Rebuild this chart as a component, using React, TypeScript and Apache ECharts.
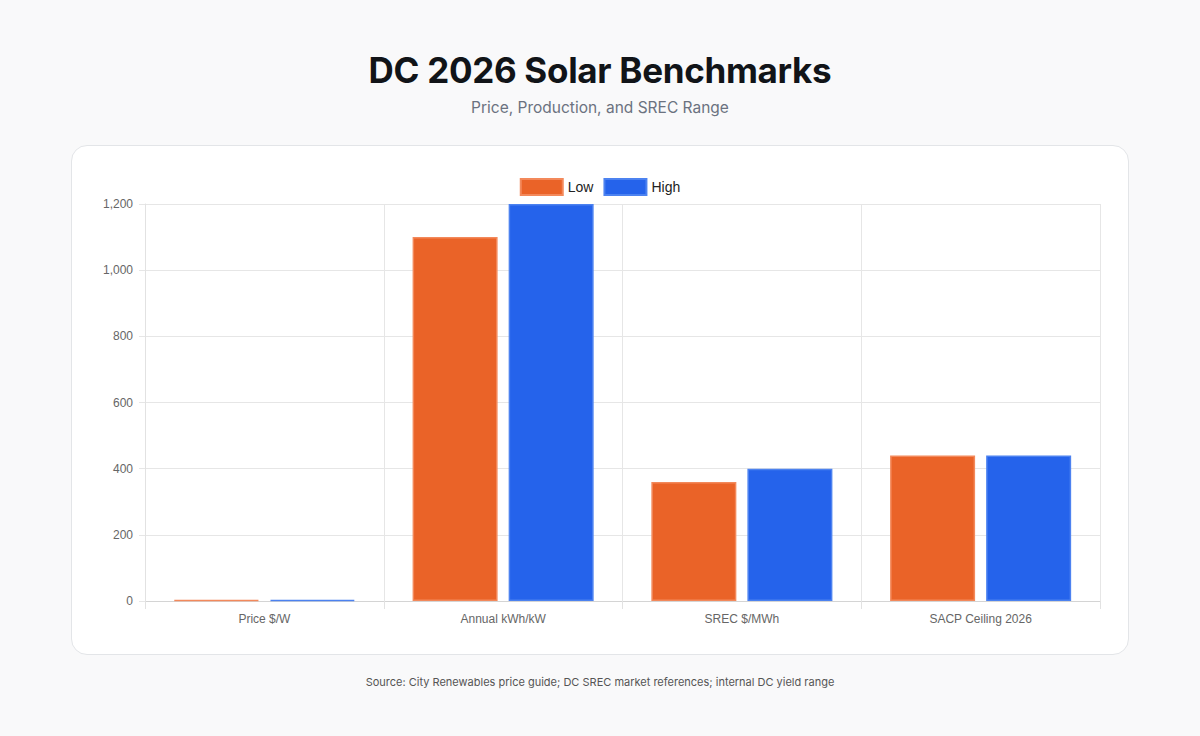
import React, { useEffect, useRef } from "react";
import * as echarts from "echarts";

const categories = ["Price $/W", "Annual kWh/kW", "SREC $/MWh", "SACP Ceiling 2026"];
const lowValues = [2.5, 1100, 360, 440];
const highValues = [3.5, 1200, 400, 440];
const yTicks = { min: 0, max: 1200, interval: 200 };

const TITLE = "DC 2026 Solar Benchmarks";
const SUBTITLE = "Price, Production, and SREC Range";
const SOURCE = "Source: City Renewables price guide; DC SREC market references; internal DC yield range";

const ORANGE = "#EA6328";
const BLUE = "#2563EB";

function Chart() {
  const ref = useRef<HTMLDivElement>(null);
  useEffect(() => {
    if (!ref.current) return;
    const chart = echarts.init(ref.current, undefined, { renderer: "svg" });
    chart.setOption({
      animation: false,
      textStyle: { fontFamily: "'Liberation Sans', Arial, Helvetica, sans-serif" },
      legend: {
        top: 27,
        left: "center",
        itemWidth: 42,
        itemHeight: 16,
        itemGap: 10,
        icon: "rect",
        textStyle: { fontSize: 14, color: "#222", fontFamily: "'Liberation Sans', Arial, sans-serif" },
        data: ["Low", "High"],
      },
      grid: { left: 73, right: 28, top: 58, bottom: 53, containLabel: false },
      xAxis: {
        type: "category",
        data: categories,
        axisLine: { show: true, lineStyle: { color: "#d4d4d4" } },
        axisTick: { show: true, length: 8, lineStyle: { color: "#e2e2e2" } },
        splitLine: { show: true, lineStyle: { color: "#e6e6e6" } },
        axisLabel: { color: "#666", fontSize: 12, margin: 12 },
      },
      yAxis: {
        type: "value",
        min: yTicks.min,
        max: yTicks.max,
        interval: yTicks.interval,
        axisLine: { show: true, lineStyle: { color: "#e2e2e2" } },
        axisTick: { show: true, length: 6, lineStyle: { color: "#e6e6e6" } },
        splitLine: { show: true, lineStyle: { color: "#e6e6e6" } },
        axisLabel: {
          color: "#666",
          fontSize: 12,
          margin: 12,
          formatter: (v: number) => v.toLocaleString("en-US"),
        },
      },
      series: [
        {
          name: "Low",
          type: "bar",
          data: lowValues,
          barWidth: 85,
          barGap: "13%",
          itemStyle: { color: ORANGE, borderColor: "#F3895B", borderWidth: 1.5 },
        },
        {
          name: "High",
          type: "bar",
          data: highValues,
          barWidth: 85,
          barGap: "13%",
          itemStyle: { color: BLUE, borderColor: "#4C82F0", borderWidth: 1.5 },
        },
      ],
    });
    return () => chart.dispose();
  }, []);
  return <div ref={ref} style={{ width: 1056, height: 508 }} />;
}

export default function App() {
  return (
    <div
      style={{
        position: "fixed",
        left: 0,
        top: 0,
        width: 1200,
        height: 736,
        background: "#f9f9fa",
        fontFamily: "Inter, 'Liberation Sans', Arial, sans-serif",
        overflow: "hidden",
      }}
    >
      <div
        style={{
          position: "absolute",
          top: 48,
          left: 0,
          width: 1200,
          textAlign: "center",
          fontSize: 35,
          fontWeight: 700,
          color: "#111418",
          lineHeight: "44px",
          letterSpacing: "-0.3px",
        }}
      >
        {TITLE}
      </div>
      <div
        style={{
          position: "absolute",
          top: 97,
          left: 0,
          width: 1200,
          textAlign: "center",
          fontSize: 15.5,
          color: "#6b7280",
          lineHeight: "22px",
        }}
      >
        {SUBTITLE}
      </div>
      <div
        style={{
          position: "absolute",
          left: 71,
          top: 145,
          width: 1056,
          height: 508,
          background: "#fff",
          border: "1px solid #e3e5e8",
          borderRadius: 16,
          overflow: "hidden",
        }}
      >
        <Chart />
      </div>
      <div
        style={{
          position: "absolute",
          top: 674,
          left: 0,
          width: 1200,
          textAlign: "center",
          fontSize: 11,
          color: "#555",
          lineHeight: "16px",
        }}
      >
        {SOURCE}
      </div>
    </div>
  );
}
